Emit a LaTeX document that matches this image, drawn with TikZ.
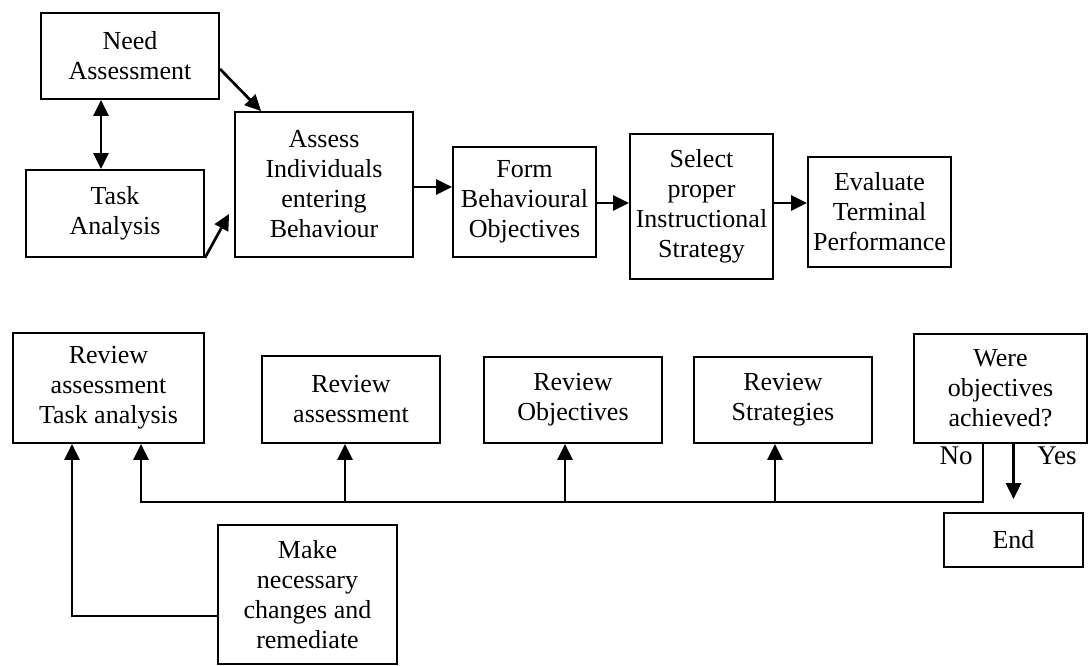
\documentclass[tikz,border=0pt]{standalone}
\usepackage{fontspec}
\setmainfont{Liberation Serif}
\usetikzlibrary{arrows.meta,calc}
\begin{document}
\begin{tikzpicture}[x=1pt,y=1pt,
  box/.style={draw=black, line width=1.8pt, align=center, inner sep=2pt,
    font=\fontsize{26}{30}\selectfont},
  conn/.style={line width=2.7pt, -{Triangle[length=16pt,width=15pt]}},
  line/.style={line width=2.7pt},
  lbl/.style={font=\fontsize{27}{30}\selectfont, inner sep=0pt}]
\useasboundingbox (0,0) rectangle (1089,-666);
% top row
\node[box, minimum width=178pt, minimum height=86pt] (na) at (130,-56) {Need\\Assessment};
\node[box, minimum width=178pt, minimum height=87pt] (ta) at (115,-213.5) {Task\\Analysis};
\node[box, minimum width=178pt, minimum height=145pt] (ai) at (324,-184.5) {Assess\\Individuals\\entering\\Behaviour};
\node[box, minimum width=143pt, minimum height=110pt] (fb) at (524.5,-202) {Form\\Behavioural\\Objectives};
\node[box, minimum width=143pt, minimum height=145pt] (ss) at (701.5,-206.5) {Select\\proper\\Instructional\\Strategy};
\node[box, minimum width=143pt, minimum height=110pt] (et) at (879.5,-212) {Evaluate\\Terminal\\Performance};
% bottom row
\node[box, minimum width=191pt, minimum height=110pt] (rta) at (108.5,-388) {Review\\assessment\\Task analysis};
\node[box, minimum width=178pt, minimum height=87pt] (ra) at (351,-399.5) {Review\\assessment};
\node[box, minimum width=178pt, minimum height=86pt] (ro) at (573,-400) {Review\\Objectives};
\node[box, minimum width=178pt, minimum height=86pt] (rs) at (783,-400) {Review\\Strategies};
\node[box, minimum width=173pt, minimum height=109pt] (woa) at (1000.5,-388.5) {Were\\objectives\\achieved?};
\node[box, minimum width=139pt, minimum height=54pt] (end) at (1013.5,-540) {End};
\node[box, minimum width=179pt, minimum height=139pt] (mk) at (307.5,-594.5) {Make\\necessary\\changes and\\remediate};
% labels
\node[lbl] (no) at (956,-456) {No};
\node[lbl] (yes) at (1057,-456) {Yes};
% coordinates
\coordinate (c1) at (101,0);
\coordinate (bus) at (141,-502);
\coordinate (busR) at (983,-502);
% top connectors
\draw[line, {Triangle[length=16pt,width=15pt]}-{Triangle[length=16pt,width=15pt]}] (na.south -| c1) -- (ta.north -| c1);
\draw[conn] ($(na.south east)+(0,31)$) -- ($(ai.north west)+(27,0)$);
\draw[conn] (ta.south east) -- ($(ai.south west)+(-5,44)$);
\draw[conn] ($(ai.east)+(0,-2.5)$) -- ($(ai.east -| fb.west)+(0,-2.5)$);
\draw[conn] ($(fb.east)+(0,-1)$) -- ($(fb.east -| ss.west)+(0,-1)$);
\draw[conn] ($(fb.east -| ss.east)+(0,-1)$) -- ($(fb.east -| et.west)+(0,-1)$);
% bottom connectors
\draw[conn, shorten >=13pt] (woa.south -| end.north) -- (end.north);
\draw[conn] (woa.south -| busR) -- (busR) -- (bus) -- (rta.south -| bus);
\draw[conn] ($(ra.south |- bus)+(-6,0)$) -- ($(ra.south)+(-6,0)$);
\draw[conn] ($(ro.south |- bus)+(-8,0)$) -- ($(ro.south)+(-8,0)$);
\draw[conn] ($(rs.south |- bus)+(-8,0)$) -- ($(rs.south)+(-8,0)$);
\draw[conn] ($(mk.west)+(0,-21.5)$) -| ($(rta.south)+(-36.5,0)$);
\end{tikzpicture}
\end{document}
